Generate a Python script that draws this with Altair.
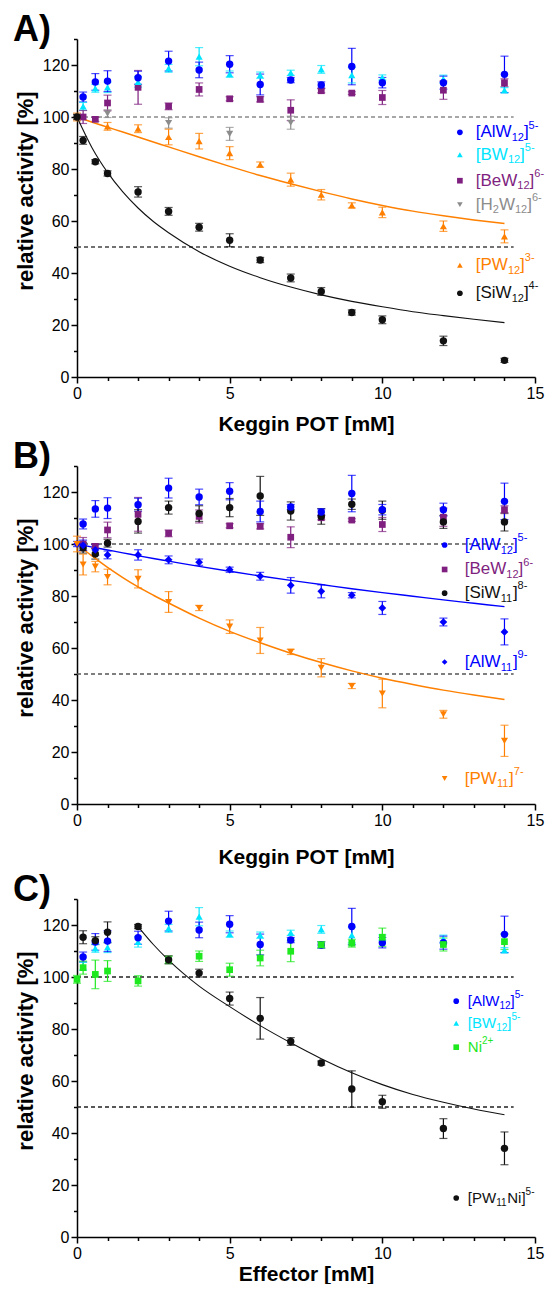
import altair as alt
import pandas as pd

FONT = "Liberation Sans"
W, H = 458, 338
XMAX, YMAX = 15, 130

# ---------------- data ----------------
X = [0.2, 0.6, 1, 2, 3, 4, 5, 6, 7, 8, 9, 10, 12, 14]
X0 = [0] + X

# shared reference series
alw12 = [107.7, 113.5, 113.8, 115.1, 121.5, 118.1, 120.3, 112.5, 114.2, 112.3, 119.4, 113.2, 113.2, 116.4]
alw12_err = [1.9, 3.2, 4.0, 2.5, 3.8, 3.0, 3.3, 4.0, 1.0, 1.2, 7.0, 2.0, 2.5, 7.0]
bw12 = [104.1, 111.0, 111.4, 113.5, 118.7, 123.2, 116.5, 116.1, 117.0, 118.3, 116.1, 115.2, 114.6, 110.3]
bw12_err = [1.5, 1.5, 2.0, 2.0, 1.5, 3.5, 1.2, 1.2, 1.0, 1.5, 3.0, 1.0, 1.5, 1.0]
bew12 = [100.0, 99.1, 105.4, 111.4, 104.1, 110.6, 107.0, 106.8, 102.6, 110.1, 109.2, 107.5, 110.3, 113.2]
bew12_err = [2.5, 0.8, 3.0, 6.5, 1.3, 2.5, 0.8, 1.0, 4.0, 0.8, 0.5, 2.7, 3.5, 1.5]

# panel A
h2w12_x = [1, 3, 5, 7]
h2w12 = [101.3, 97.7, 93.5, 97.8]
h2w12_err = [1.5, 2.0, 2.5, 2.5]
pw12_x = [0, 1, 2, 3, 4, 5, 6, 7, 8, 9, 10, 12, 14]
pw12 = [100.0, 96.4, 95.5, 92.3, 90.7, 86.1, 81.7, 75.9, 70.1, 66.0, 63.3, 58.0, 54.1]
pw12_err = [1.5, 1.5, 1.5, 3.0, 3.0, 2.5, 1.0, 2.5, 2.0, 1.0, 2.0, 2.0, 2.5]
siw12 = [100.0, 91.0, 82.8, 78.3, 71.2, 63.7, 57.6, 52.6, 45.0, 38.1, 32.9, 24.8, 22.0, 13.9, 6.4]
siw12_err = [1.0, 1.5, 0.8, 1.0, 2.0, 1.5, 1.5, 2.5, 1.0, 1.5, 1.5, 1.0, 1.5, 1.8, 0.8]

FIT_X = [0, 0.5, 1, 1.5, 2, 2.5, 3, 4, 5, 6, 7, 8, 9, 10, 11, 12, 13, 14]
siw12_fit = [100, 88.0, 78.7, 71.2, 65.0, 59.8, 55.5, 48.2, 42.6, 38.2, 34.6, 31.6, 29.1, 27.0, 25.1, 23.6, 22.2, 20.9]
pw12_fit = [100, 98.0, 96.1, 94.2, 92.3, 90.4, 88.5, 84.7, 81.0, 77.5, 74.3, 71.3, 68.5, 66.0, 63.8, 62.0, 60.4, 59.0]

# panel B
siw11 = [98.5, 96.2, 100.3, 108.7, 114.0, 111.7, 114.0, 118.5, 112.7, 110.6, 115.3, 113.0, 108.5, 108.5]
siw11_err = [2.0, 2.0, 1.5, 4.5, 2.5, 3.0, 3.5, 7.5, 3.5, 3.0, 2.0, 3.5, 2.5, 3.5]
alw11 = [100.0, 99.5, 97.7, 95.8, 95.8, 93.9, 93.0, 90.1, 87.6, 84.1, 81.8, 80.3, 75.4, 70.0, 66.2]
alw11_err = [1.0, 2.0, 2.0, 1.5, 2.0, 1.5, 1.2, 1.0, 1.5, 3.0, 2.5, 1.0, 2.5, 1.5, 5.0]
pw11 = [100.0, 92.1, 91.3, 87.3, 86.6, 77.7, 75.4, 68.2, 62.9, 58.5, 52.4, 45.4, 42.5, 34.5, 24.3]
pw11_err = [3.0, 4.0, 2.0, 3.0, 3.5, 4.0, 1.0, 2.6, 5.0, 1.0, 3.5, 1.0, 5.5, 1.5, 6.0]
alw11_fit = [100, 98.8, 97.7, 96.6, 95.5, 94.4, 93.4, 91.4, 89.5, 87.7, 86.0, 84.4, 82.8, 81.3, 79.9, 78.5, 77.2, 75.9]
pw11_fit = [100, 95.3, 91.0, 87.1, 83.5, 80.3, 77.3, 71.5, 66.4, 62.0, 58.0, 54.4, 51.2, 48.4, 46.0, 43.8, 41.9, 40.2]

# panel C
ni = [99.1, 103.6, 101.0, 102.3, 98.5, 106.6, 108.0, 102.8, 107.3, 109.9, 112.4, 113.0, 115.3, 112.5, 113.6]
ni_err = [1.5, 2.5, 5.5, 4.0, 2.0, 1.5, 2.0, 2.5, 3.0, 4.0, 1.2, 1.5, 3.5, 2.5, 3.0]
pw11ni = [115.3, 114.0, 117.2, 119.4, 106.6, 101.5, 91.7, 84.1, 75.2, 66.9, 56.9, 52.0, 41.7, 34.1]
pw11ni_err = [2.5, 1.5, 4.0, 0.8, 1.5, 1.5, 2.5, 8.0, 1.5, 0.8, 7.0, 2.5, 3.8, 6.3]
pw11ni_fit_x = [2, 2.5, 3, 3.5, 4, 5, 6, 7, 8, 9, 10, 11, 12, 13, 14]
pw11ni_fit = [119.4, 112.5, 106.5, 101.2, 96.5, 88.6, 81.3, 74.7, 68.6, 63.2, 58.6, 54.8, 51.8, 49.2, 47.0]

REF_LEVELS = [100, 50]
REF_X = [0, 14.3]

Y_TITLE = "relative activity [%]"

# ---------------- styles ----------------
BLUE, CYAN, PURPLE, GREY = "#0000ff", "#00e5ff", "#7f1f7f", "#8c8c8c"
ORANGE, BLACK, GREEN = "#ff8000", "#111111", "#1ee81e"

EM = {"[": 0.278, "]": 0.278, "A": 0.667, "l": 0.222, "W": 0.944, "B": 0.667,
      "e": 0.556, "H": 0.722, "P": 0.667, "S": 0.667, "i": 0.222, "N": 0.722,
      "-": 0.333, "+": 0.584}


def tw(s, fs):
    return sum(EM.get(c, 0.556) for c in s) * fs


xscale = alt.Scale(domain=[0, XMAX], nice=False, zero=False)
yscale = alt.Scale(domain=[0, YMAX], nice=False, zero=False)


def make_axes(xtitle, tpad):
    xaxis = alt.Axis(
        values=list(range(0, 16)), title=xtitle,
        labelExpr="datum.value % 5 === 0 ? datum.label : ''",
        tickSize={"condition": {"test": "datum.value % 5 === 0", "value": 6}, "value": 3.5},
        labelFontSize=16, labelPadding=2, labelOverlap=False, labelFlush=False,
        titleFontSize=21, titleFontWeight="bold", titlePadding=tpad,
        domainWidth=1.5, tickWidth=1.5, domainColor="black", tickColor="black",
        labelColor="black", titleColor="black", grid=False, labelFont=FONT, titleFont=FONT)
    yaxis = alt.Axis(
        values=list(range(0, 131, 10)), title=None,
        labelExpr="datum.value % 20 === 0 ? datum.label : ''",
        tickSize={"condition": {"test": "datum.value % 20 === 0", "value": 6}, "value": 3.5},
        labelFontSize=16, labelPadding=2, labelOverlap=False, labelFlush=False,
        domainWidth=1.5, tickWidth=1.5, domainColor="black", tickColor="black",
        labelColor="black", grid=False, labelFont=FONT)
    return xaxis, yaxis


def panel(label, series, fits, refcols, legend, xtitle, tpad):
    rows = []
    for s in series:
        for x, y, e in zip(s["x"], s["y"], s["e"]):
            rows.append(dict(x=x, y=y, lo=y - e, hi=y + e, col=s["col"],
                             shp=s["shp"], sz=s["sz"]))
    pts = pd.DataFrame(rows)
    frows = []
    for name, fx, fy, col, sw in fits:
        for x, y in zip(fx, fy):
            frows.append(dict(x=x, y=y, name=name, col=col, sw=sw))
    fdf = pd.DataFrame(frows)
    rdf = pd.DataFrame([dict(x=REF_X[0], x2=REF_X[1], y=lv, col=c)
                        for lv, c in zip(REF_LEVELS, refcols)])

    sym_x, txt_x, F, f, entries = legend
    sx = XMAX / W
    sy = YMAX / H
    srows, trows = [], []
    for ry, shp, col, parts in entries:
        srows.append(dict(x=sym_x, y=ry, shp=shp, col=col, sz=32))
        off = 0.0
        for t, kind in parts:
            fs = F if kind == "n" else f
            dy = 0 if kind == "n" else (0.33 * F if kind == "sub" else -0.40 * F)
            trows.append(dict(x=txt_x + off * sx, y=ry - dy * sy, t=t, fs=fs, col=col))
            off += tw(t, fs)
    sdf = pd.DataFrame(srows)
    tdf = pd.DataFrame(trows)

    xaxis, yaxis = make_axes(xtitle, tpad)
    col = alt.Color("col:N", scale=None)

    def XE(field="x"):
        return alt.X(f"{field}:Q", scale=xscale, axis=xaxis)

    def YE(field="y"):
        return alt.Y(f"{field}:Q", scale=yscale, axis=yaxis)

    ref = alt.Chart(rdf).mark_rule(strokeDash=[4, 3], strokeWidth=1.3).encode(
        x=XE(), x2="x2:Q", y=YE(), color=col)
    ebar = alt.Chart(pts).mark_rule(strokeWidth=1.2).encode(
        x=XE(), y=YE("lo"), y2="hi:Q", color=col)
    cap_lo = alt.Chart(pts).mark_tick(orient="horizontal", size=8, thickness=1.2).encode(
        x=XE(), y=YE("lo"), color=col)
    cap_hi = alt.Chart(pts).mark_tick(orient="horizontal", size=8, thickness=1.2).encode(
        x=XE(), y=YE("hi"), color=col)
    lines = alt.Chart(fdf).mark_line(interpolate="monotone").encode(
        x=XE(), y=YE(), color=col,
        strokeWidth=alt.StrokeWidth("sw:Q", scale=None), detail="name:N")
    marks = alt.Chart(pts).mark_point(filled=True, opacity=1).encode(
        x=XE(), y=YE(), color=col,
        shape=alt.Shape("shp:N", scale=None), size=alt.Size("sz:Q", scale=None))
    lsym = alt.Chart(sdf).mark_point(filled=True, opacity=1).encode(
        x=XE(), y=YE(), color=col,
        shape=alt.Shape("shp:N", scale=None), size=alt.Size("sz:Q", scale=None))
    ltxt = alt.Chart(tdf).mark_text(align="left", baseline="middle", font=FONT).encode(
        x=XE(), y=YE(), color=col, text="t:N",
        size=alt.Size("fs:Q", scale=None))
    # panel letter and y-axis title, placed relative to the plot area
    plabel = alt.Chart(pd.DataFrame({"t": [label]})).mark_text(
        align="left", baseline="alphabetic", font=FONT, fontSize=36,
        fontWeight="bold", color="black").encode(
        text="t:N", x=alt.value(-64), y=alt.value(2))
    ytitle = alt.Chart(pd.DataFrame({"t": [Y_TITLE]})).mark_text(
        align="center", baseline="middle", font=FONT, fontSize=22,
        fontWeight="bold", color="black", angle=270).encode(
        text="t:N", x=alt.value(-51), y=alt.value(152))

    return alt.layer(ref, ebar, cap_lo, cap_hi, lines, marks, lsym, ltxt,
                     plabel, ytitle).properties(width=W, height=H)


def S(x, y, e, col, shp, sz=55):
    return dict(x=x, y=y, e=e, col=col, shp=shp, sz=sz)


# ---------------- panel A ----------------
serA = [
    S(X, bew12, bew12_err, PURPLE, "square", 45),
    S(h2w12_x, h2w12, h2w12_err, GREY, "triangle-down", 50),
    S(X, bw12, bw12_err, CYAN, "triangle-up", 50),
    S(X, alw12, alw12_err, BLUE, "circle", 55),
    S(pw12_x, pw12, pw12_err, ORANGE, "triangle-up", 50),
    S(X0, siw12, siw12_err, BLACK, "circle", 55),
]
fitA = [("siw12", FIT_X, siw12_fit, BLACK, 1.1), ("pw12", FIT_X, pw12_fit, ORANGE, 1.5)]
legA = (12.54, 13.06, 17, 11, [
    (94.1, "circle", BLUE, [("[AlW", "n"), ("12", "sub"), ("]", "n"), ("5-", "sup")]),
    (85.5, "triangle-up", CYAN, [("[BW", "n"), ("12", "sub"), ("]", "n"), ("5-", "sup")]),
    (75.5, "square", PURPLE, [("[BeW", "n"), ("12", "sub"), ("]", "n"), ("6-", "sup")]),
    (66.3, "triangle-down", GREY, [("[H", "n"), ("2", "sub"), ("W", "n"), ("12", "sub"),
                                   ("]", "n"), ("6-", "sup")]),
    (43.0, "triangle-up", ORANGE, [("[PW", "n"), ("12", "sub"), ("]", "n"), ("3-", "sup")]),
    (32.2, "circle", BLACK, [("[SiW", "n"), ("12", "sub"), ("]", "n"), ("4-", "sup")]),
])
pA = panel("A)", serA, fitA, ["#8a8a8a", "#444444"], legA, "Keggin POT [mM]", 12)

# ---------------- panel B ----------------
serB = [
    S(X, bew12, bew12_err, PURPLE, "square", 45),
    S(X, siw11, siw11_err, BLACK, "circle", 55),
    S(X, alw12, alw12_err, BLUE, "circle", 55),
    S(X0, alw11, alw11_err, BLUE, "diamond", 60),
    S(X0, pw11, pw11_err, ORANGE, "triangle-down", 50),
]
fitB = [("alw11", FIT_X, alw11_fit, BLUE, 1.4), ("pw11", FIT_X, pw11_fit, ORANGE, 1.5)]
legB = (12.04, 12.7, 17, 11, [
    (99.6, "circle", BLUE, [("[AlW", "n"), ("12", "sub"), ("]", "n"), ("5-", "sup")]),
    (90.2, "square", PURPLE, [("[BeW", "n"), ("12", "sub"), ("]", "n"), ("6-", "sup")]),
    (81.1, "circle", BLACK, [("[SiW", "n"), ("11", "sub"), ("]", "n"), ("8-", "sup")]),
    (54.6, "diamond", BLUE, [("[AlW", "n"), ("11", "sub"), ("]", "n"), ("9-", "sup")]),
    (9.8, "triangle-down", ORANGE, [("[PW", "n"), ("11", "sub"), ("]", "n"), ("7-", "sup")]),
])
pB = panel("B)", serB, fitB, ["#555555", "#555555"], legB, "Keggin POT [mM]", 18)

# ---------------- panel C ----------------
serC = [
    S(X, bw12, bw12_err, CYAN, "triangle-up", 50),
    S(X, alw12, alw12_err, BLUE, "circle", 55),
    S(X0, ni, ni_err, GREEN, "square", 45),
    S(X, pw11ni, pw11ni_err, BLACK, "circle", 55),
]
fitC = [("pw11ni", pw11ni_fit_x, pw11ni_fit, BLACK, 1.1)]
legC = (12.42, 12.8, 15, 10, [
    (90.7, "circle", BLUE, [("[AlW", "n"), ("12", "sub"), ("]", "n"), ("5-", "sup")]),
    (82.2, "triangle-up", CYAN, [("[BW", "n"), ("12", "sub"), ("]", "n"), ("5-", "sup")]),
    (73.0, "square", GREEN, [("Ni", "n"), ("2+", "sup")]),
    (15.0, "circle", BLACK, [("[PW", "n"), ("11", "sub"), ("Ni]", "n"), ("5-", "sup")]),
])
pC = panel("C)", serC, fitC, ["#222222", "#222222"], legC, "Effector [mM]", 2)

chart = alt.vconcat(pA, pB, pC, spacing=5).properties(
    padding={"left": 5, "top": 4, "right": 0, "bottom": 0}
).configure(font=FONT).configure_view(stroke=None)

chart.save("out.html", embed_options={"renderer": "svg", "actions": False})
